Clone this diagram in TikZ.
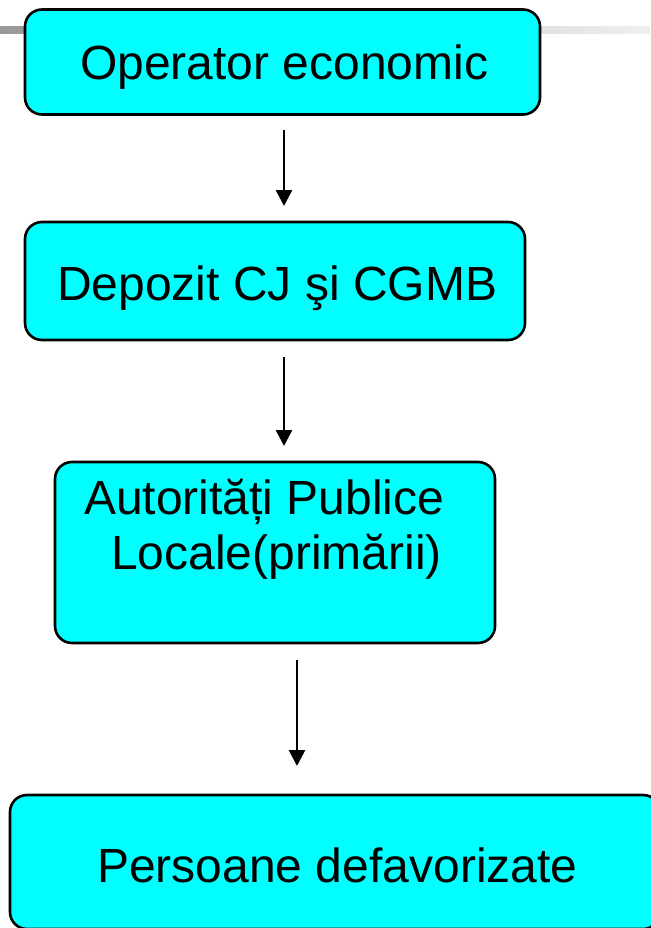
\documentclass[tikz,border=0pt]{standalone}
\usepackage{fontspec}
\setmainfont{Liberation Sans}
\usetikzlibrary{arrows.meta}
\definecolor{boxcyan}{HTML}{00FFFF}
\tikzset{
  flowbox/.style={draw=black, line width=2.6pt, fill=boxcyan, rounded corners=17pt, inner sep=0pt},
  boxtext/.style={anchor=base west, inner sep=0pt, font=\fontsize{48}{56}\selectfont},
  flowarrow/.style={line width=2.6pt, -{Triangle[length=16pt,width=16pt]}}
}
\begin{document}
\begin{tikzpicture}[x=1pt,y=-1pt]
\useasboundingbox (0,0) rectangle (650,928);
% decorative slide bar
\shade[left color=gray!80, right color=gray!12] (0,27) rectangle (650,34);
% boxes
\node[flowbox, minimum width=515pt, minimum height=105pt] (b1) at (282.5,62) {};
\node[flowbox, minimum width=500pt, minimum height=118pt] (b2) at (275,281) {};
\node[flowbox, minimum width=440pt, minimum height=181pt] (b3) at (275,552.5) {};
\node[flowbox, minimum width=650pt, minimum height=134pt] (b4) at (335,862) {};
% texts
\node[boxtext] (t1) at (80,80) {Operator economic};
\node[boxtext] (t2) at (57,300) {Depozit CJ şi CGMB};
\node[boxtext] (t3a) at (84,514) {Autorități Publice};
\node[boxtext] (t3b) at (111,569) {Locale(primării)};
\node[boxtext] (t4) at (97,882) {Persoane defavorizate};
% arrows
\coordinate (a1s) at (284,130); \coordinate (a1e) at (284,206);
\coordinate (a2s) at (284,357); \coordinate (a2e) at (284,446);
\coordinate (a3s) at (297,660); \coordinate (a3e) at (297,766);
\draw[flowarrow] (a1s) -- (a1e);
\draw[flowarrow] (a2s) -- (a2e);
\draw[flowarrow] (a3s) -- (a3e);
\end{tikzpicture}
\end{document}
